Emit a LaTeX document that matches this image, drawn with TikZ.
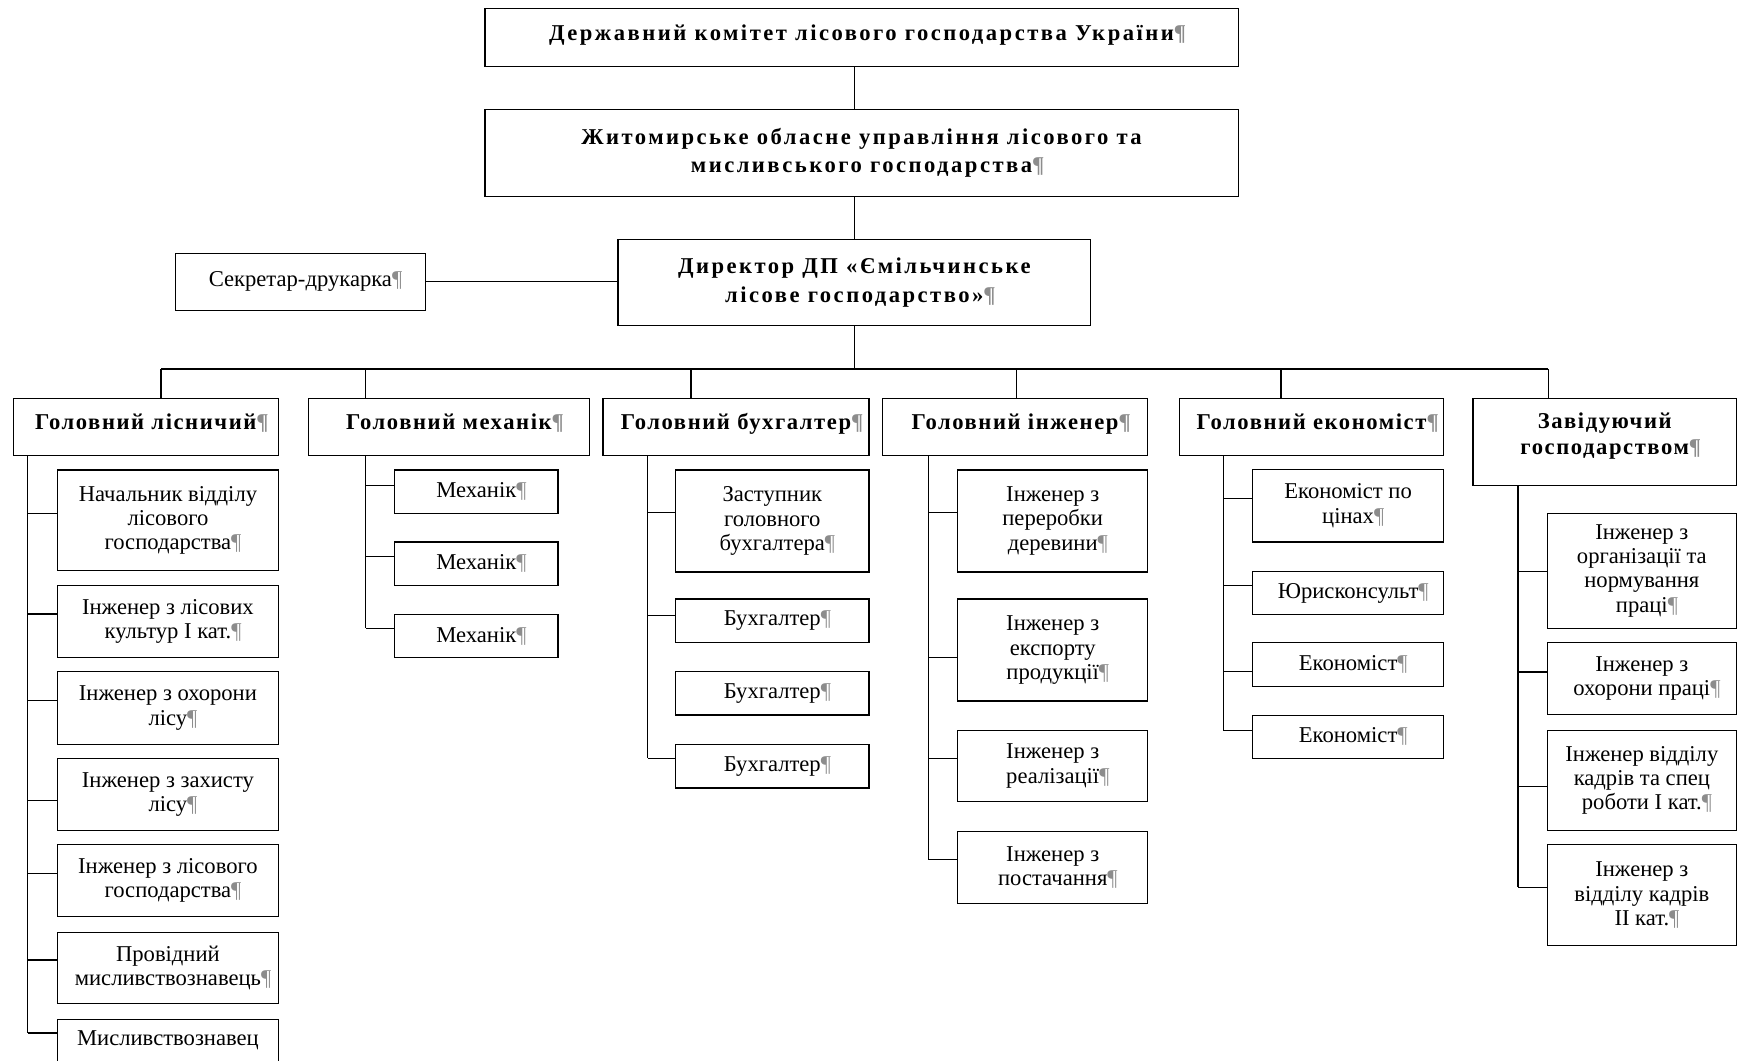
\documentclass[tikz,border=0pt]{standalone}
\usepackage{fontspec}
\setmainfont{Liberation Serif}
\newfontfamily\hdfont[LetterSpace=7]{Liberation Serif}
\newfontfamily\tpfont[LetterSpace=11]{Liberation Serif}
\newcommand\pil{\rlap{\textcolor{black!45}{¶}}}
\tikzset{
  bx/.style={draw, line width=1.1pt, inner sep=0pt, align=center, font=\fontsize{20.4}{21.8}\selectfont},
  hd/.style={bx, font=\hdfont\bfseries\fontsize{20.4}{24}\selectfont},
  hd1/.style={hd, text height=14pt, text depth=9pt},
  tp/.style={bx, font=\tpfont\bfseries\fontsize{20.4}{25.5}\selectfont},
  ln/.style={line width=1.1pt},
}
\newcommand\mkbox[7]{\node[#1, minimum width={#4-#2}, minimum height={#5-#3}] (#7) at ({(#2+#4)/2},{(#3+#5)/2}) {#6};}
\begin{document}
\begin{tikzpicture}[x=1pt,y=-1pt]
\useasboundingbox (0,0) rectangle (1568,957);
\clip (0,0) rectangle (1568,957);
% top levels
\mkbox{tp,text height=15pt,text depth=9pt}{437.5}{7.5}{1117}{60}{Державний комітет лісового господарства України\pil}{top}
\mkbox{tp}{437.5}{99}{1117}{177}{Житомирське обласне управління лісового та\\мисливського господарства\pil}{gov}
\mkbox{tp}{557.5}{216}{984}{294}{Директор ДП «Ємільчинське\\лісове господарство»\pil}{dir}
\mkbox{bx}{158}{228.5}{384}{280}{Секретар-друкарка\pil}{sec}
% heads
\mkbox{hd1}{12}{359.5}{251}{411}{Головний лісничий\pil}{h1}
\mkbox{hd1}{278}{359.5}{532}{411}{Головний механік\pil}{h2}
\mkbox{hd1}{544}{359.5}{784}{411}{Головний бухгалтер\pil}{h3}
\mkbox{hd1}{796}{359.5}{1035.5}{411}{Головний інженер\pil}{h4}
\mkbox{hd1}{1064}{359.5}{1302.5}{411}{Головний економіст\pil}{h5}
\node[draw, line width=1.1pt, minimum width=237.5, minimum height=78.5,
  label={[hd, draw=none, yshift=5.5pt]center:Завідуючий\\господарством\pil}] (h6) at (1447.75,398.75) {};
% column 1
\mkbox{bx}{52}{424}{251}{515}{Начальник відділу\\лісового\\господарства\pil}{c11}
\mkbox{bx}{52}{528}{251}{593}{Інженер з лісових\\культур І кат.\pil}{c12}
\mkbox{bx}{52}{606}{251}{671.5}{Інженер з охорони\\лісу\pil}{c13}
\mkbox{bx}{52}{684}{251}{749}{Інженер з захисту\\лісу\pil}{c14}
\mkbox{bx}{52}{762}{251}{827}{Інженер з лісового\\господарства\pil}{c15}
\mkbox{bx}{52}{841}{251}{905}{Провідний\\мисливствознавець\pil}{c16}
\node[bx, anchor=north, minimum width=199, inner ysep=6pt, text height=18pt, text depth=40pt] (c17) at (151.5,919) {Мисливствознавец};
% column 2
\mkbox{bx}{356}{424}{503.5}{463}{Механік\pil}{c21}
\mkbox{bx}{356}{489}{503.5}{528}{Механік\pil}{c22}
\mkbox{bx}{356}{554.5}{503.5}{593.5}{Механік\pil}{c23}
% column 3
\mkbox{bx}{609.5}{424}{784}{516}{Заступник\\головного\\бухгалтера\pil}{c31}
\mkbox{bx}{609.5}{540.5}{784}{580}{Бухгалтер\pil}{c32}
\mkbox{bx}{609.5}{606}{784}{645}{Бухгалтер\pil}{c33}
\mkbox{bx}{609.5}{671.5}{784}{711}{Бухгалтер\pil}{c34}
% column 4
\mkbox{bx}{864}{424}{1035.5}{516}{Інженер з\\переробки\\деревини\pil}{c41}
\mkbox{bx}{864}{540.5}{1035.5}{632.5}{Інженер з\\експорту\\продукції\pil}{c42}
\mkbox{bx}{864}{659}{1035.5}{723}{Інженер з\\реалізації\pil}{c43}
\mkbox{bx}{864}{750}{1035.5}{815}{Інженер з\\постачання\pil}{c44}
% column 5
\mkbox{bx}{1130}{423.5}{1302.5}{489}{Економіст по\\цінах\pil}{c51}
\mkbox{bx}{1130}{515.5}{1302.5}{554.5}{Юрисконсульт\pil}{c52}
\mkbox{bx}{1130}{579.5}{1302.5}{619.5}{Економіст\pil}{c53}
\mkbox{bx}{1130}{645.3}{1302.5}{684}{Економіст\pil}{c54}
% column 6
\mkbox{bx}{1396}{463}{1566.5}{567}{Інженер з\\організації та\\нормування\\праці\pil}{c61}
\mkbox{bx}{1396}{579.6}{1566.5}{644.7}{Інженер з\\охорони праці\pil}{c62}
\mkbox{bx}{1396}{659}{1566.5}{749}{Інженер відділу\\кадрів та спец\\роботи І кат.\pil}{c63}
\mkbox{bx}{1396}{762}{1566.5}{853}{Інженер з\\відділу кадрів\\ІІ кат.\pil}{c64}
% upper connectors
\draw[ln] (top.south -| dir.north) -- (gov.north -| dir.north);
\draw[ln] (gov.south -| dir.north) -- (dir.north);
\draw[ln] (sec.east) -- (sec.east -| dir.west);
\coordinate (bus) at (770.75,333);
\coordinate (d1) at (145.3,333);
\coordinate (d2) at (329.7,333);
\coordinate (d3) at (623.4,333);
\coordinate (d4) at (917,333);
\coordinate (d5) at (1155.7,333);
\coordinate (d6) at (1396.8,333);
\draw[ln] (dir.south) -- (bus);
\draw[ln] (d1) -- (d6);
\foreach \i in {1,...,6} {\draw[ln] (d\i) -- (d\i |- h\i.north);}
% column trunks
\coordinate (v1) at (25,932);
\coordinate (v2) at (330,567);
\coordinate (v3) at (584.5,684);
\coordinate (v4) at (837.5,775.5);
\coordinate (v5) at (1103.5,658.7);
\coordinate (v6) at (1369.5,800.4);
\foreach \i in {1,...,6} {\draw[ln] (h\i.south -| v\i) -- (v\i);}
% stubs
\foreach \n/\x/\y in {c11/25/463, c12/25/554, c13/25/632, c14/25/722, c15/25/788, c16/25/866, c17/25/932,
  c21/330/438, c22/330/502, c23/330/567,
  c31/584.5/462.5, c32/584.5/555, c34/584.5/684,
  c41/837.5/462.5, c42/837.5/593, c43/837.5/684, c44/837.5/775.5,
  c51/1103.5/450, c52/1103.5/528, c53/1103.5/606, c54/1103.5/658.7,
  c61/1369.5/515.6, c62/1369.5/606.3, c63/1369.5/709.7, c64/1369.5/800.4}
  {\draw[ln] (\x,\y) -- (\n.west |- 0,\y);}
\end{tikzpicture}
\end{document}
